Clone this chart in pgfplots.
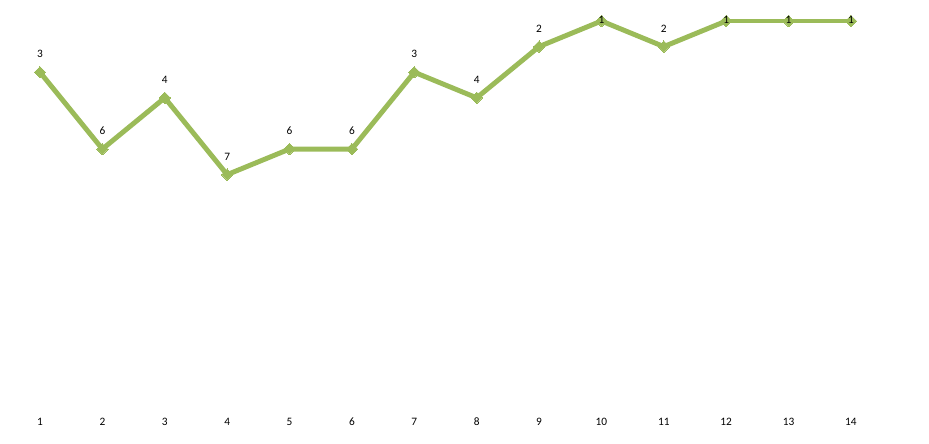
\documentclass[border=0pt]{standalone}
\usepackage{pgfplots}
\pgfplotsset{compat=1.18}
\usepackage{fontspec}
\setmainfont{Carlito}
\definecolor{lgreen}{HTML}{9BBB59}
\begin{document}
\begin{tikzpicture}
\begin{axis}[
  scale only axis, width=696.75pt, height=332.25pt,
  xmin=0.3588, xmax=15.251, ymin=0.1797, ymax=17.48,
  y dir=reverse, clip=false,
  axis line style={draw=none}, major tick style={draw=none},
  ytick=\empty, xtick={1,...,14},
  xticklabel pos=lower,
  xticklabel style={anchor=center, yshift=15.75pt, font=\fontsize{8.5}{10}\selectfont},
  /pgf/number format/assume math mode=true,
]
\addplot[lgreen, line width=3.7pt, line join=round, mark=square*, mark size=3pt, mark options={rotate=45, line width=0pt}] coordinates {
(1,3) (2,6) (3,4) (4,7) (5,6) (6,6) (7,3) (8,4) (9,2) (10,1) (11,2) (12,1)};
\addplot[lgreen, line width=2.4pt, mark=square*, mark size=3pt, mark options={rotate=45, line width=0pt}] coordinates {
(12,1) (13,1) (14,1)};
\addplot[draw=none, nodes near coords, point meta=y, nodes near coords style={anchor=center, yshift=13.5pt, font=\fontsize{8.5}{10}\selectfont, black}] coordinates {
(1,3) (2,6) (3,4) (4,7) (5,6) (6,6) (7,3) (8,4) (9,2) (11,2)};
\addplot[draw=none, nodes near coords, point meta=y, nodes near coords style={anchor=center, yshift=0.8pt, font=\fontsize{8.5}{10}\selectfont, black}] coordinates {
(10,1) (12,1) (13,1) (14,1)};
\coordinate (tl) at (axis cs:0.3588,0.1797);
\coordinate (br) at (axis cs:15.251,17.48);
\end{axis}
\pgfresetboundingbox
\path[use as bounding box] (tl) rectangle (br);
\end{tikzpicture}
\end{document}
